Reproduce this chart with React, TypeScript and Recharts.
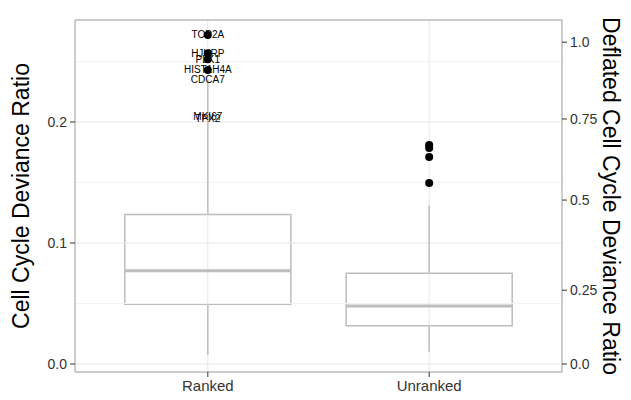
import {
  ComposedChart, XAxis, YAxis, Scatter, ReferenceLine, ReferenceArea,
} from "recharts";

const CATEGORIES = ["Ranked", "Unranked"];
const CAT_X = [1, 2];

// box stats (left axis units)
const Q1 = [0.0493, 0.0317];
const MEDIAN = [0.0771, 0.048];
const Q3 = [0.1236, 0.075];
const WHISKER_LOW = [0.0074, 0.0102];
const WHISKER_HIGH = [0.2353, 0.131];

const RANKED_OUTLIERS = [0.272, 0.2569, 0.2518, 0.243];
const UNRANKED_OUTLIERS = [0.181, 0.1785, 0.171, 0.1496];

const GENE_NAMES = ["TOP2A", "HJURP", "PLK1", "HIST1H4A", "CDCA7", "MKI67", "TPX2"];
const GENE_VALUES = [0.272, 0.2569, 0.2518, 0.243, 0.2353, 0.2044, 0.2025];

const LEFT_TICKS = [0, 0.1, 0.2];
const MINOR_TICKS = [0.05, 0.15, 0.25];
const RIGHT_TICK_POS = [0, 0.061, 0.1355, 0.2025, 0.266];
const RIGHT_TICK_LABELS = ["0.0", "0.25", "0.5", "0.75", "1.0"];

const Y_MIN = -0.0066;
const Y_MAX = 0.2843;
const HALF_BOX = 0.375;

const FONT = "'Liberation Sans', Arial, Helvetica, sans-serif";
const BOX = "#bdbdbd";
const BORDER = "#9a9a9a";

const outlierData = [
  ...RANKED_OUTLIERS.map((y) => ({ x: CAT_X[0], y })),
  ...UNRANKED_OUTLIERS.map((y) => ({ x: CAT_X[1], y })),
];
const geneData = GENE_NAMES.map((name, i) => ({ x: CAT_X[0], y: GENE_VALUES[i], name }));

const tickStyle = { fill: "#333", fontSize: 14, fontFamily: FONT };
const xTickStyle = { fill: "#333", fontSize: 15, fontFamily: FONT };
const titleStyle = { fontSize: 23, fontFamily: FONT, fill: "#000" };

export default function App() {
  return (
    <div style={{ position: "absolute", left: 0, top: 0, background: "#fff" }}>
      <ComposedChart width={631} height={400} margin={{ top: 20, right: 0, bottom: 0, left: 0 }}>
        <XAxis dataKey="x" type="number" domain={[0.4, 2.6]} allowDataOverflow
          ticks={CAT_X} tickFormatter={(v: number) => CATEGORIES[v - 1]}
          height={28} tick={xTickStyle} tickSize={5} tickMargin={3}
          axisLine={{ stroke: BORDER }} tickLine={{ stroke: "#333" }} />
        <YAxis yAxisId="left" type="number" domain={[Y_MIN, Y_MAX]} allowDataOverflow
          ticks={LEFT_TICKS} tickFormatter={(v: number) => v.toFixed(1)}
          width={75} tick={tickStyle} tickSize={5} tickMargin={3}
          axisLine={{ stroke: BORDER }} tickLine={{ stroke: "#333" }}
          label={{ value: "Cell Cycle Deviance Ratio", angle: -90, position: "center", dx: -17,
            style: titleStyle }} />
        <YAxis yAxisId="right" orientation="right" type="number" domain={[Y_MIN, Y_MAX]} allowDataOverflow
          ticks={RIGHT_TICK_POS} tickFormatter={(_: number, i: number) => RIGHT_TICK_LABELS[i]}
          width={69} tick={tickStyle} tickSize={5} tickMargin={3}
          axisLine={{ stroke: BORDER }} tickLine={{ stroke: "#333" }}
          label={{ value: "Deflated Cell Cycle Deviance Ratio", angle: 90, position: "center", dx: 15,
            style: titleStyle }} />

        {MINOR_TICKS.map((v) => (
          <ReferenceLine key={"mn" + v} yAxisId="left" y={v} stroke="#f3f3f3" strokeWidth={1} />
        ))}
        {LEFT_TICKS.map((v) => (
          <ReferenceLine key={"mj" + v} yAxisId="left" y={v} stroke="#e6e6e6" strokeWidth={1} />
        ))}
        {CAT_X.map((v) => (
          <ReferenceLine key={"vx" + v} yAxisId="left" x={v} stroke="#e6e6e6" strokeWidth={1} />
        ))}
        <ReferenceLine yAxisId="left" y={Y_MAX} stroke={BORDER} strokeWidth={1} />

        {CAT_X.map((c, i) => (
          <ReferenceLine key={"wh" + c} yAxisId="left" stroke={BOX} strokeWidth={1.5}
            segment={[{ x: c, y: Q3[i] }, { x: c, y: WHISKER_HIGH[i] }]} />
        ))}
        {CAT_X.map((c, i) => (
          <ReferenceLine key={"wl" + c} yAxisId="left" stroke={BOX} strokeWidth={1.5}
            segment={[{ x: c, y: Q1[i] }, { x: c, y: WHISKER_LOW[i] }]} />
        ))}
        {CAT_X.map((c, i) => (
          <ReferenceArea key={"bx" + c} yAxisId="left" x1={c - HALF_BOX} x2={c + HALF_BOX}
            y1={Q1[i]} y2={Q3[i]} fill="#fff" fillOpacity={1} stroke={BOX} strokeWidth={1.5} />
        ))}
        {CAT_X.map((c, i) => (
          <ReferenceLine key={"md" + c} yAxisId="left" stroke={BOX} strokeWidth={3}
            segment={[{ x: c - HALF_BOX, y: MEDIAN[i] }, { x: c + HALF_BOX, y: MEDIAN[i] }]} />
        ))}

        <Scatter yAxisId="left" data={outlierData} dataKey="y" isAnimationActive={false}
          shape={(p: any) => <circle cx={p.cx} cy={p.cy} r={4} fill="#000" />} />
        <Scatter yAxisId="left" data={geneData} dataKey="y" isAnimationActive={false}
          shape={(p: any) => (
            <text x={p.cx} y={p.cy} textAnchor="middle" dominantBaseline="central"
              fontSize={10} fontFamily={FONT} fill="#000">{p.payload.name}</text>
          )} />
      </ComposedChart>
    </div>
  );
}
